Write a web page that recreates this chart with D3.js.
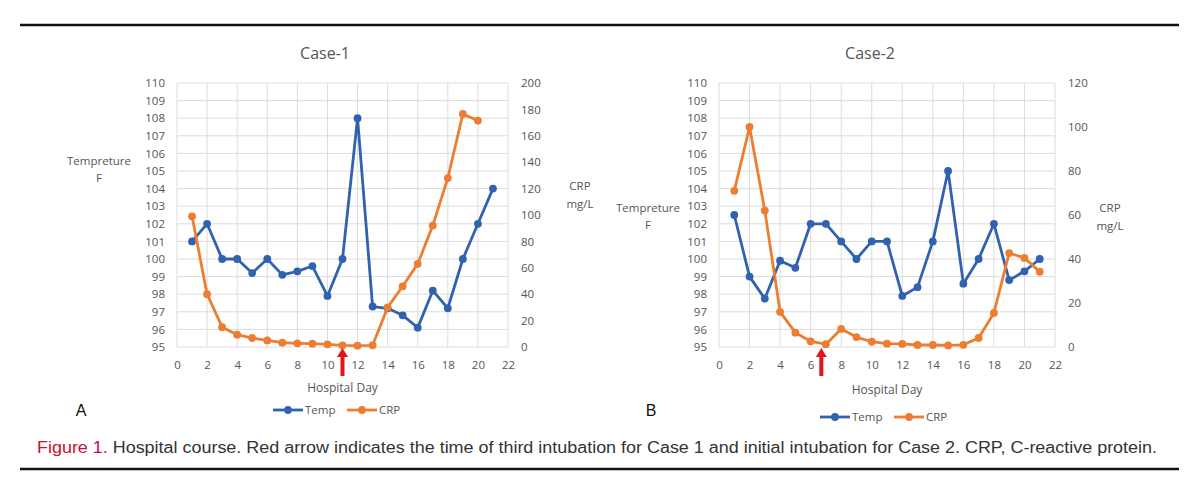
<!DOCTYPE html>
<html>
<head>
<meta charset="utf-8">
<script src="https://cdn.jsdelivr.net/npm/d3@7"></script>
<style>
  html, body { margin: 0; padding: 0; background: #fff; }
  svg { display: block; }
</style>
</head>
<body>
<svg id="chart" width="1200" height="495"></svg>
<script>
// ---------- DATA ----------
const days = [1,2,3,4,5,6,7,8,9,10,11,12,13,14,15,16,17,18,19,20,21];
const case1Temp = [101,102,100,100,99.2,100,99.1,99.3,99.6,97.9,100,108,97.3,97.2,96.8,96.1,98.2,97.2,100,102,104];
const case1CrpDays = [1,2,3,4,5,6,7,8,9,10,11,12,13,14,15,16,17,18,19,20];
const case1Crp = [99,40,15,9.3,6.8,5,3.3,2.8,2.5,2,1.3,1,1.3,30,46,63,92,128,176.5,171.5];
const case2Temp = [102.5,99,97.75,99.9,99.5,102,102,101,100,101,101,97.9,98.4,101,105,98.6,100,102,98.8,99.3,100];
const case2Crp = [71,100,62,16,6.5,2.6,1.3,8.2,4.5,2.4,1.5,1.4,0.9,0.9,0.7,1,4.1,15.5,42.7,40.5,34.2];
const xTicks = [0,2,4,6,8,10,12,14,16,18,20,22];
const tempTicks = [95,96,97,98,99,100,101,102,103,104,105,106,107,108,109,110];
const case1CrpTicks = [0,20,40,60,80,100,120,140,160,180,200];
const case2CrpTicks = [0,20,40,60,80,100,120];
const arrowDays = [11, 6.7];
const titles = ["Case-1", "Case-2"];
const panelLetters = ["A", "B"];
const seriesNames = ["Temp", "CRP"];
const captionLead = "Figure 1.";
const captionText = " Hospital course. Red arrow indicates the time of third intubation for Case 1 and initial intubation for Case 2. CRP, C-reactive protein.";

// ---------- STYLE ----------
const BLUE = "#3162b0";
const ORANGE = "#ed7d31";
const GRID = "#dcdcdc";
const TXT = "#555555";
const FONT = "'Open Sans', 'Noto Sans', sans-serif";

const svg = d3.select("#chart");

// top & bottom rules
svg.append("line").attr("x1", 20).attr("x2", 1179).attr("y1", 25).attr("y2", 25)
  .attr("stroke", "#111").attr("stroke-width", 2.5);
svg.append("line").attr("x1", 20).attr("x2", 1179).attr("y1", 469).attr("y2", 469)
  .attr("stroke", "#111").attr("stroke-width", 2.5);

const panels = [
  {
    left: 177, right: 508, top: 83, bottom: 347,
    temp: case1Temp, tempDays: days, crp: case1Crp, crpDays: case1CrpDays,
    crpMax: 200, crpTicks: case1CrpTicks, arrow: arrowDays[0],
    title: titles[0], titleX: 325, letter: panelLetters[0], letterX: 81,
    tempLbl: [99, 161], crpLbl: [580, 186], hdY: 388, legendX: 273, legendY: 410
  },
  {
    left: 719, right: 1055, top: 83, bottom: 347,
    temp: case2Temp, tempDays: days, crp: case2Crp, crpDays: days,
    crpMax: 120, crpTicks: case2CrpTicks, arrow: arrowDays[1],
    title: titles[1], titleX: 870, letter: panelLetters[1], letterX: 651,
    tempLbl: [648, 208], crpLbl: [1110, 208], hdY: 390, legendX: 820, legendY: 417
  }
];

panels.forEach(p => {
  const g = svg.append("g");
  const x = d3.scaleLinear().domain([0, 22]).range([p.left, p.right]);
  const yT = d3.scaleLinear().domain([95, 110]).range([p.bottom, p.top]);
  const yC = d3.scaleLinear().domain([0, p.crpMax]).range([p.bottom, p.top]);

  // gridlines
  g.selectAll(".hg").data(tempTicks).join("line")
    .attr("x1", p.left).attr("x2", p.right)
    .attr("y1", d => yT(d)).attr("y2", d => yT(d))
    .attr("stroke", GRID).attr("stroke-width", 1);
  g.selectAll(".vg").data(xTicks).join("line")
    .attr("x1", d => x(d)).attr("x2", d => x(d))
    .attr("y1", p.top).attr("y2", p.bottom)
    .attr("stroke", GRID).attr("stroke-width", 1);

  // axes via d3 axes (labels only)
  const axL = g.append("g").attr("transform", `translate(${p.left - 4},0)`)
    .call(d3.axisLeft(yT).tickValues(tempTicks).tickSize(0).tickPadding(8).tickFormat(d3.format("d")));
  const axR = g.append("g").attr("transform", `translate(${p.right + 5},0)`)
    .call(d3.axisRight(yC).tickValues(p.crpTicks).tickSize(0).tickPadding(8).tickFormat(d3.format("d")));
  const axB = g.append("g").attr("transform", `translate(0,${p.bottom + 10})`)
    .call(d3.axisBottom(x).tickValues(xTicks).tickSize(0).tickPadding(4).tickFormat(d3.format("d")));
  [axL, axR, axB].forEach(a => {
    a.select(".domain").remove();
    a.selectAll("text").attr("fill", TXT).style("font-family", FONT).style("font-size", "11.5px");
  });

  // title
  g.append("text").attr("x", p.titleX).attr("y", 53).attr("dy", "0.35em")
    .attr("text-anchor", "middle").attr("fill", TXT)
    .style("font-family", FONT).style("font-size", "16px").text(p.title);

  // axis titles
  const tl = g.append("text").attr("text-anchor", "middle").attr("fill", TXT)
    .style("font-family", FONT).style("font-size", "11.5px");
  tl.append("tspan").attr("x", p.tempLbl[0]).attr("y", p.tempLbl[1]).attr("dy", "0.35em").text("Tempreture");
  tl.append("tspan").attr("x", p.tempLbl[0]).attr("y", p.tempLbl[1] + 17).attr("dy", "0.35em").text("F");
  const cl = g.append("text").attr("text-anchor", "middle").attr("fill", TXT)
    .style("font-family", FONT).style("font-size", "11.5px");
  cl.append("tspan").attr("x", p.crpLbl[0]).attr("y", p.crpLbl[1]).attr("dy", "0.35em").text("CRP");
  cl.append("tspan").attr("x", p.crpLbl[0]).attr("y", p.crpLbl[1] + 18).attr("dy", "0.35em").text("mg/L");

  g.append("text").attr("x", (p.left + p.right) / 2).attr("y", p.hdY).attr("dy", "0.35em")
    .attr("text-anchor", "middle").attr("fill", TXT)
    .style("font-family", FONT).style("font-size", "12px").text("Hospital Day");

  // series
  const tempPts = p.tempDays.map((d, i) => [d, p.temp[i]]);
  const crpPts = p.crpDays.map((d, i) => [d, p.crp[i]]);
  const lt = d3.line().x(d => x(d[0])).y(d => yT(d[1]));
  const lc = d3.line().x(d => x(d[0])).y(d => yC(d[1]));

  g.append("path").attr("d", lt(tempPts)).attr("fill", "none")
    .attr("stroke", BLUE).attr("stroke-width", 2.8).attr("stroke-linejoin", "round");
  g.selectAll(".tp").data(tempPts).join("circle")
    .attr("cx", d => x(d[0])).attr("cy", d => yT(d[1])).attr("r", 3.9).attr("fill", BLUE);

  g.append("path").attr("d", lc(crpPts)).attr("fill", "none")
    .attr("stroke", ORANGE).attr("stroke-width", 2.8).attr("stroke-linejoin", "round");
  g.selectAll(".cp").data(crpPts).join("circle")
    .attr("cx", d => x(d[0])).attr("cy", d => yC(d[1])).attr("r", 3.9).attr("fill", ORANGE);

  // red arrow
  const ax = x(p.arrow);
  const tipY = p.bottom + 1, baseY = p.bottom + 29;
  g.append("path")
    .attr("d", `M${ax},${tipY} L${ax + 5.5},${tipY + 9} L${ax + 2},${tipY + 9} L${ax + 2},${baseY} L${ax - 2},${baseY} L${ax - 2},${tipY + 9} L${ax - 5.5},${tipY + 9} Z`)
    .attr("fill", "#e3141c");

  // legend
  const lg = g.append("g").attr("transform", `translate(${p.legendX},${p.legendY})`);
  const items = [{ name: seriesNames[0], color: BLUE, x0: 0 }, { name: seriesNames[1], color: ORANGE, x0: 74 }];
  items.forEach(it => {
    lg.append("line").attr("x1", it.x0).attr("x2", it.x0 + 30).attr("y1", 0).attr("y2", 0)
      .attr("stroke", it.color).attr("stroke-width", 2.8);
    lg.append("circle").attr("cx", it.x0 + 15).attr("cy", 0).attr("r", 3.9).attr("fill", it.color);
    lg.append("text").attr("x", it.x0 + 32).attr("y", 0).attr("dy", "0.35em").attr("fill", TXT)
      .style("font-family", FONT).style("font-size", "11.5px").text(it.name);
  });

  // panel letter
  g.append("text").attr("x", p.letterX).attr("y", 410).attr("dy", "0.35em")
    .attr("text-anchor", "middle").attr("fill", "#111")
    .style("font-family", "'Liberation Sans', Arial, sans-serif").style("font-size", "16px").text(p.letter);
});

// caption
const cap = svg.append("text").attr("x", 37).attr("y", 447).attr("dy", "0.35em")
  .style("font-family", "'Liberation Sans', Arial, sans-serif").style("font-size", "16px")
  .attr("textLength", 1120).attr("lengthAdjust", "spacingAndGlyphs");
cap.append("tspan").attr("fill", "#c8102e").text(captionLead);
cap.append("tspan").attr("fill", "#333").text(captionText);
</script>
</body>
</html>
